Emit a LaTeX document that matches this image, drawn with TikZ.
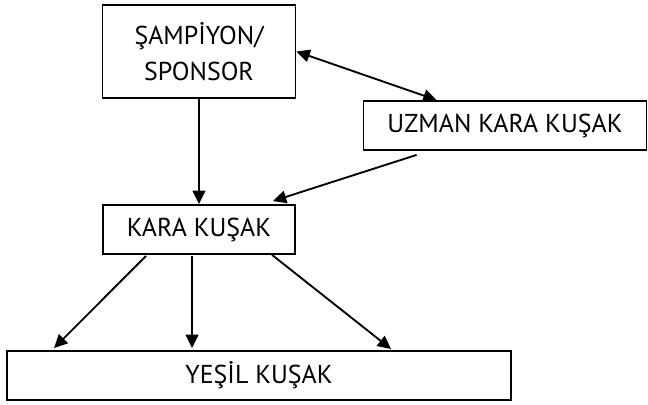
\documentclass[tikz,border=0pt]{standalone}
\usepackage{fontspec}
\setmainfont{PT Sans}
\usetikzlibrary{arrows.meta,calc}

\tikzset{
	kutu/.style={draw,line width=1.4pt,inner sep=0pt,align=center,
		font=\fontsize{19.4}{27}\selectfont},
	uc/.tip={Triangle[length=10pt,width=9.5pt]},
	ok/.style={-uc,line width=1.4pt}
}

\begin{document}
\begin{tikzpicture}[x=0.75pt,y=0.75pt]
	\useasboundingbox (0,0) rectangle (648,404);

	\node[kutu,minimum width=193*0.75pt,minimum height=93*0.75pt] (sponsor) at (199,352.5) {ŞAMPİYON/\\SPONSOR};
	\node[kutu,minimum width=283*0.75pt,minimum height=49*0.75pt] (uzman) at (505,278.5) {UZMAN KARA KUŞAK};
	\node[kutu,minimum width=192*0.75pt,minimum height=49*0.75pt] (kara) at (199,174.5) {KARA KUŞAK};
	\node[kutu,minimum width=504*0.75pt,minimum height=49*0.75pt] (yesil) at (259,28.5) {YEŞİL KUŞAK};

	% sampiyon <-> uzman
	\draw[ok,uc-uc] (sponsor.east) -- ($(uzman.north west)+(74,0)$);

	% kara kusak girisleri
	\draw[ok] (sponsor.south) -- (sponsor.south |- kara.north);
	\draw[ok] ($(uzman.south west)+(54,-4)$) -- ($(kara.north east)+(-23,3)$);

	% yesil kusak
	\draw[ok] ($(kara.south west)+(44,-1)$) -- ($(yesil.north west)+(48,2)$);
	\draw[ok] ($(kara.south west)+(90,-1)$) -- ($(yesil.north west)+(186,2)$);
	\draw[ok] ($(kara.south west)+(170,0)$) -- ($(yesil.north west)+(385,1)$);
\end{tikzpicture}
\end{document}
